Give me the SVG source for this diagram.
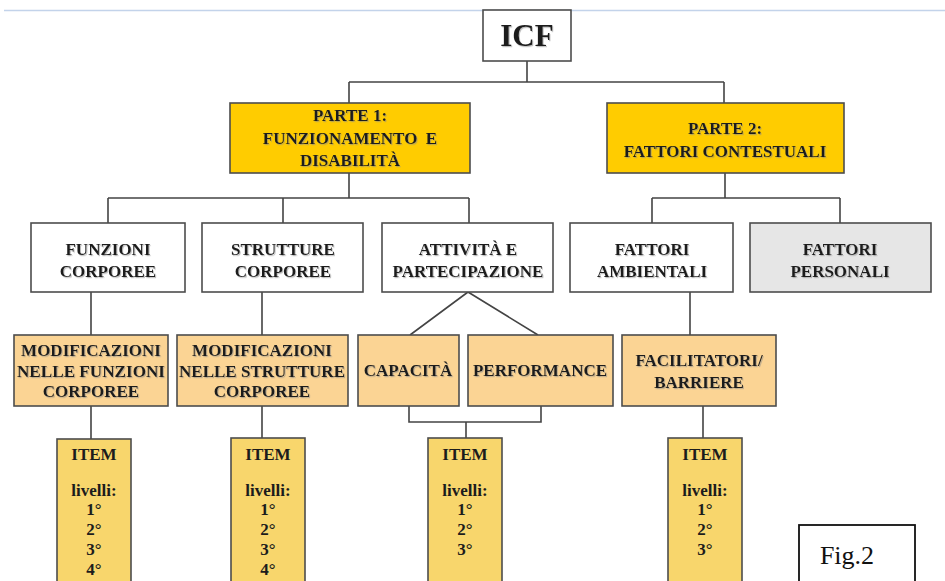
<svg xmlns="http://www.w3.org/2000/svg" width="945" height="581" viewBox="0 0 945 581">
<defs>
<filter id="sh" x="-10%" y="-30%" width="120%" height="160%">
<feDropShadow dx="1" dy="1.2" stdDeviation="0.7" flood-color="#888" flood-opacity="0.55"/>
</filter>
</defs>
<style>
.box{stroke:#4d4d4d;stroke-width:1.6}
.w{fill:#ffffff}
.gold{fill:#ffcc00}
.gray{fill:#e6e6e6}
.peach{fill:#fbd494}
.item{fill:#f8d66c}
.t{font-family:"Liberation Serif","Times New Roman",serif;font-weight:bold;fill:#1c1c1c;text-anchor:middle;font-size:17px;filter:url(#sh)}
.it{font-family:"Liberation Serif","Times New Roman",serif;font-weight:bold;fill:#1c1c1c;text-anchor:middle;font-size:17px}
.c{fill:none;stroke:#444;stroke-width:1.6}
</style>
<rect width="945" height="581" fill="#ffffff"/>
<line x1="4" y1="10.5" x2="945" y2="10.5" stroke="#c3d3ea" stroke-width="1.5"/>

<g id="connectors">
<path class="c" d="M527 61V82M349 82H724M349 82V103M724 82V103"/>
<path class="c" d="M349 173V198M108 198H469M108 198V223M283 198V223M469 198V223"/>
<path class="c" d="M725 173V198M652 198H840M652 198V223M840 198V223"/>
<path class="c" d="M91 292V335M262 292V335M690 292V335"/>
<path class="c" d="M468 292L410 335M468 292L538 335"/>
<path class="c" d="M409 406V422H541V406M466 422V438"/>
<path class="c" d="M91 406V439M262 406V438M703 406V438"/>
</g>

<g id="icf">
<rect class="box w" x="483" y="10" width="88" height="51"/>
<text class="t" x="527" y="46" style="font-size:31px">ICF</text>
</g>

<g id="parte1">
<rect class="box gold" x="230" y="103" width="240" height="70"/>
<text class="t" x="350" y="121">PARTE 1:</text>
<text class="t" x="350" y="144" xml:space="preserve">FUNZIONAMENTO  E</text>
<text class="t" x="350" y="166">DISABILITÀ</text>
</g>

<g id="parte2">
<rect class="box gold" x="607" y="103" width="237" height="70"/>
<text class="t" x="725" y="134">PARTE 2:</text>
<text class="t" x="725" y="157">FATTORI CONTESTUALI</text>
</g>

<g id="funzioni">
<rect class="box w" x="31" y="223" width="154" height="69"/>
<text class="t" x="108" y="255">FUNZIONI</text>
<text class="t" x="108" y="277">CORPOREE</text>
</g>

<g id="strutture">
<rect class="box w" x="202" y="223" width="161" height="69"/>
<text class="t" x="283" y="255">STRUTTURE</text>
<text class="t" x="283" y="277">CORPOREE</text>
</g>

<g id="attivita">
<rect class="box w" x="382" y="223" width="171" height="69"/>
<text class="t" x="468" y="255">ATTIVITÀ E</text>
<text class="t" x="468" y="277">PARTECIPAZIONE</text>
</g>

<g id="ambientali">
<rect class="box w" x="570" y="223" width="163" height="69"/>
<text class="t" x="652" y="255">FATTORI</text>
<text class="t" x="652" y="277">AMBIENTALI</text>
</g>

<g id="personali">
<rect class="box gray" x="750" y="223" width="181" height="69"/>
<text class="t" x="840" y="255">FATTORI</text>
<text class="t" x="840" y="277">PERSONALI</text>
</g>

<g id="mod-funzioni">
<rect class="box peach" x="14" y="335" width="154" height="71"/>
<text class="t" x="91" y="356">MODIFICAZIONI</text>
<text class="t" x="91" y="377" textLength="148" lengthAdjust="spacingAndGlyphs">NELLE FUNZIONI</text>
<text class="t" x="91" y="397">CORPOREE</text>
</g>

<g id="mod-strutture">
<rect class="box peach" x="177" y="335" width="171" height="71"/>
<text class="t" x="262" y="356">MODIFICAZIONI</text>
<text class="t" x="262" y="377" textLength="166" lengthAdjust="spacingAndGlyphs">NELLE STRUTTURE</text>
<text class="t" x="262" y="397">CORPOREE</text>
</g>

<g id="capacita">
<rect class="box peach" x="358" y="335" width="101" height="71"/>
<text class="t" x="408" y="376">CAPACITÀ</text>
</g>

<g id="performance">
<rect class="box peach" x="468" y="335" width="145" height="71"/>
<text class="t" x="540" y="376">PERFORMANCE</text>
</g>

<g id="facilitatori">
<rect class="box peach" x="622" y="335" width="154" height="71"/>
<text class="t" x="699" y="366">FACILITATORI/</text>
<text class="t" x="699" y="388">BARRIERE</text>
</g>

<g id="item1">
<rect class="box item" x="57" y="439" width="74" height="155"/>
<text class="it" x="94" y="460">ITEM</text>
<text class="it" x="94" y="496">livelli:</text>
<text class="it" x="94" y="515">1°</text>
<text class="it" x="94" y="535">2°</text>
<text class="it" x="94" y="555">3°</text>
<text class="it" x="94" y="575">4°</text>
</g>

<g id="item2">
<rect class="box item" x="231" y="438" width="74" height="155"/>
<text class="it" x="268" y="460">ITEM</text>
<text class="it" x="268" y="496">livelli:</text>
<text class="it" x="268" y="515">1°</text>
<text class="it" x="268" y="535">2°</text>
<text class="it" x="268" y="555">3°</text>
<text class="it" x="268" y="575">4°</text>
</g>

<g id="item3">
<rect class="box item" x="428" y="438" width="74" height="155"/>
<text class="it" x="465" y="460">ITEM</text>
<text class="it" x="465" y="496">livelli:</text>
<text class="it" x="465" y="515">1°</text>
<text class="it" x="465" y="535">2°</text>
<text class="it" x="465" y="555">3°</text>
</g>

<g id="item4">
<rect class="box item" x="668" y="438" width="74" height="155"/>
<text class="it" x="705" y="460">ITEM</text>
<text class="it" x="705" y="496">livelli:</text>
<text class="it" x="705" y="515">1°</text>
<text class="it" x="705" y="535">2°</text>
<text class="it" x="705" y="555">3°</text>
</g>

<g id="fig">
<rect x="799" y="525" width="116" height="70" fill="#ffffff" stroke="#111" stroke-width="1.8"/>
<text x="847" y="564" text-anchor="middle" style="font-family:'Liberation Serif','Times New Roman',serif;font-size:26px;fill:#111">Fig.2</text>
</g>
</svg>
